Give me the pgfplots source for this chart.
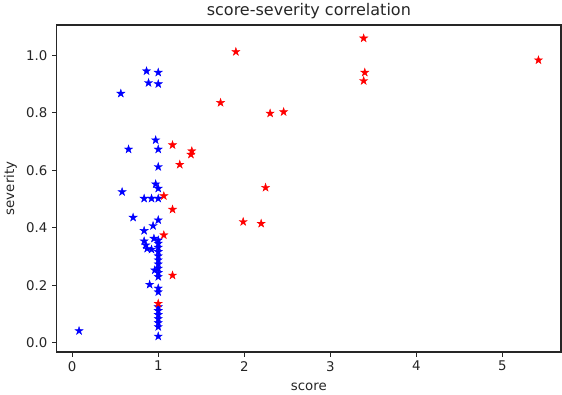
\documentclass[border=0pt]{standalone}
\usepackage{fontspec}
\setmainfont{DejaVu Sans}
\usepackage{pgfplots}
\pgfplotsset{compat=1.18}

% filled five-pointed star, like matplotlib's '*'
\pgfdeclareplotmark{fstar}{%
  \pgfpathmoveto{\pgfpointpolar{90}{\pgfplotmarksize}}%
  \pgfpathlineto{\pgfpointpolar{126}{0.382\pgfplotmarksize}}%
  \pgfpathlineto{\pgfpointpolar{162}{\pgfplotmarksize}}%
  \pgfpathlineto{\pgfpointpolar{198}{0.382\pgfplotmarksize}}%
  \pgfpathlineto{\pgfpointpolar{234}{\pgfplotmarksize}}%
  \pgfpathlineto{\pgfpointpolar{270}{0.382\pgfplotmarksize}}%
  \pgfpathlineto{\pgfpointpolar{306}{\pgfplotmarksize}}%
  \pgfpathlineto{\pgfpointpolar{342}{0.382\pgfplotmarksize}}%
  \pgfpathlineto{\pgfpointpolar{18}{\pgfplotmarksize}}%
  \pgfpathlineto{\pgfpointpolar{54}{0.382\pgfplotmarksize}}%
  \pgfpathclose
  \pgfusepathqfillstroke
}

\begin{document}
\begin{tikzpicture}
\begin{axis}[
  scale only axis,
  width=378pt, height=245pt,
  xmin=-0.18, xmax=5.68,
  ymin=-0.031, ymax=1.105,
  xtick={0,1,2,3,4,5},
  ytick={0,0.2,0.4,0.6,0.8,1.0},
  yticklabel style={/pgf/number format/.cd,fixed,fixed zerofill,precision=1},
  /pgf/number format/assume math mode=true,
  tick align=outside,
  tick pos=left,
  major tick length=3.5pt,
  tick style={black!85, line width=0.8pt},
  axis line style={black!85, line width=1.2pt},
  ticklabel style={font=\fontsize{10}{12}\selectfont, text=black!85},
  xlabel={score}, ylabel={severity},
  label style={font=\fontsize{10}{12}\selectfont, text=black!85},
  title={score-severity correlation},
  title style={font=\fontsize{12}{14}\selectfont, text=black!85, yshift=-5pt},
  xlabel style={yshift=-2pt},
  ylabel style={yshift=0pt},
  mark size=3.2pt,
]
\addplot[only marks, mark=fstar, color=blue, mark options={line width=0.3pt}] coordinates {
(0.08,0.042) (0.565,0.867) (0.58,0.525) (0.655,0.673) (0.708,0.436)
(0.836,0.39) (0.836,0.502) (0.836,0.354) (0.856,0.34) (0.871,0.328)
(0.864,0.945) (0.887,0.904) (0.90,0.203) (0.922,0.502) (0.922,0.325)
(0.94,0.407) (0.95,0.363) (0.96,0.253) (0.97,0.705) (0.97,0.552)
(1.0,0.94) (1.0,0.90) (1.0,0.673) (1.0,0.612) (1.0,0.537) (1.0,0.502)
(1.0,0.427) (1.0,0.357) (1.0,0.346) (1.0,0.332) (1.0,0.317) (1.0,0.302)
(1.0,0.288) (1.0,0.274) (1.0,0.259) (1.0,0.244) (1.0,0.23) (1.0,0.19)
(1.0,0.177) (1.0,0.125) (1.0,0.112) (1.0,0.098) (1.0,0.084) (1.0,0.07)
(1.0,0.056) (1.0,0.023)
};
\addplot[only marks, mark=fstar, color=red, mark options={line width=0.3pt}] coordinates {
(1.065,0.511) (1.065,0.375) (1.0,0.137) (1.166,0.688) (1.166,0.464)
(1.166,0.235) (1.25,0.62) (1.39,0.667) (1.38,0.655) (1.724,0.835)
(1.902,1.012) (1.987,0.421) (2.196,0.415) (2.247,0.54) (2.30,0.798)
(2.457,0.803) (3.387,1.059) (3.40,0.94) (3.387,0.911) (5.418,0.983)
};
\end{axis}
\pgfresetboundingbox
\path[use as bounding box] ([shift={(-42.5pt,-31.7pt)}]current axis.south west)
  rectangle ([shift={(0.75pt,18.75pt)}]current axis.north east);
\end{tikzpicture}
\end{document}
